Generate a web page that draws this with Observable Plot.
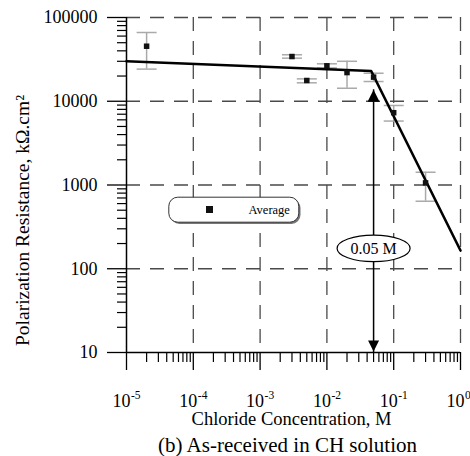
<!DOCTYPE html>
<html>
<head>
<meta charset="utf-8">
<script src="https://cdn.jsdelivr.net/npm/d3@7"></script>
<script src="https://cdn.jsdelivr.net/npm/@observablehq/plot@0.6"></script>
<style>
  body { margin: 0; background: #fff; }
  svg { display: block; }
</style>
</head>
<body>
<div id="chart"></div>
<script>
// Measured polarization resistance (kΩ·cm²) vs chloride concentration (M)
const concentration  = [2e-5, 0.003, 0.005, 0.01, 0.02, 0.05, 0.1, 0.3];
const resistance     = [45400, 34200, 17700, 26500, 22000, 19400, 7300, 1060];
const resistanceLow  = [24200, 32700, 16600, 25000, 14300, 17200, 5800, 640];
const resistanceHigh = [66200, 35900, 18500, 28000, 30000, 21600, 8900, 1420];

// Two-segment fit through the averages
const fitConcentration = [1e-5, 0.046, 1];
const fitResistance    = [30000, 23000, 165];

// Threshold annotation
const thresholdConcentration = 0.05;
const thresholdLabel = "0.05 M";
const thresholdArrowTop = 13700;
const thresholdLabelResistance = 175;

// Axis ticks
const xMajorTicks = [1e-5, 1e-4, 1e-3, 1e-2, 1e-1, 1];
const xExponents  = ["-5", "-4", "-3", "-2", "-1", "0"];
const yMajorTicks = [10, 100, 1000, 10000, 100000];
const yTickLabels = ["10", "100", "1000", "10000", "100000"];
const multiples = [2, 3, 4, 5, 6, 7, 8, 9];
const xMinorTicks = xMajorTicks.slice(0, -1).flatMap(d => multiples.map(k => k * d));
const yMinorTicks = yMajorTicks.slice(0, -1).flatMap(d => multiples.map(k => k * d));

const xTitle = "Chloride Concentration, M";
const yTitle = "Polarization Resistance, kΩ.cm²";
const caption = "(b) As-received in CH solution";
const legendLabel = "Average";

const points = concentration.map((c, i) => ({
  c, r: resistance[i], lo: resistanceLow[i], hi: resistanceHigh[i]
}));
const fit = fitConcentration.map((c, i) => ({c, r: fitResistance[i]}));
const xLabels = xMajorTicks.map((v, i) => ({v, e: xExponents[i]}));
const yLabels = yMajorTicks.map((v, i) => ({v, t: yTickLabels[i]}));

// Custom symbols
const capSymbol = {draw(ctx) { ctx.moveTo(-10, 0); ctx.lineTo(10, 0); }};
const squareSymbol = (s) => ({draw(ctx) {
  ctx.moveTo(-s / 2, -s / 2); ctx.lineTo(s / 2, -s / 2);
  ctx.lineTo(s / 2, s / 2); ctx.lineTo(-s / 2, s / 2); ctx.closePath();
}});
const arrowUp = {draw(ctx) { ctx.moveTo(0, 0); ctx.lineTo(6, 12); ctx.lineTo(-6, 12); ctx.closePath(); }};
const arrowDown = {draw(ctx) { ctx.moveTo(0, -1); ctx.lineTo(5.5, -12); ctx.lineTo(-5.5, -12); ctx.closePath(); }};
function ellipseSymbol(rx, ry) {
  const k = 0.5523;
  return {draw(ctx) {
    ctx.moveTo(rx, 0);
    ctx.bezierCurveTo(rx, ry * k, rx * k, ry, 0, ry);
    ctx.bezierCurveTo(-rx * k, ry, -rx, ry * k, -rx, 0);
    ctx.bezierCurveTo(-rx, -ry * k, -rx * k, -ry, 0, -ry);
    ctx.bezierCurveTo(rx * k, -ry, rx, -ry * k, rx, 0);
    ctx.closePath();
  }};
}
function roundRectSymbol(w, h, r) {
  const x0 = -w / 2, x1 = w / 2, y0 = -h / 2, y1 = h / 2;
  return {draw(ctx) {
    ctx.moveTo(x0 + r, y0);
    ctx.lineTo(x1 - r, y0); ctx.arcTo(x1, y0, x1, y0 + r, r);
    ctx.lineTo(x1, y1 - r); ctx.arcTo(x1, y1, x1 - r, y1, r);
    ctx.lineTo(x0 + r, y1); ctx.arcTo(x0, y1, x0, y1 - r, r);
    ctx.lineTo(x0, y0 + r); ctx.arcTo(x0, y0, x0 + r, y0, r);
    ctx.closePath();
  }};
}

const serif = "Liberation Serif, Times New Roman, serif";
const grid = {stroke: "#4a4a4a", strokeWidth: 1.3, strokeDasharray: "14,10"};

const chart = Plot.plot({
  width: 470,
  height: 456,
  marginLeft: 126,
  marginRight: 10,
  marginTop: 17,
  marginBottom: 104,
  style: {fontFamily: serif, background: "#fff", color: "#000"},
  x: {type: "log", domain: [1e-5, 1]},
  y: {type: "log", domain: [10, 100000]},
  marks: [
    // dashed grid
    Plot.ruleX(xMajorTicks.slice(1), grid),
    Plot.ruleY(yMajorTicks.slice(1), grid),

    // error bars
    Plot.ruleX(points, {x: "c", y1: "lo", y2: "hi", stroke: "#aaa", strokeWidth: 1.5}),
    Plot.dot(points, {x: "c", y: "lo", symbol: capSymbol, r: 5, stroke: "#aaa", strokeWidth: 1.5, fill: "none"}),
    Plot.dot(points, {x: "c", y: "hi", symbol: capSymbol, r: 5, stroke: "#aaa", strokeWidth: 1.5, fill: "none"}),

    // fitted line
    Plot.line(fit, {x: "c", y: "r", stroke: "#000", strokeWidth: 2.6}),

    // averages
    Plot.dot(points, {x: "c", y: "r", symbol: squareSymbol(5.5), r: 5, fill: "#111", stroke: "none"}),

    // threshold arrow
    Plot.ruleX([thresholdConcentration], {x: d => d, y1: () => 10, y2: () => thresholdArrowTop, stroke: "#000", strokeWidth: 1.5}),
    Plot.dot([thresholdConcentration], {x: d => d, y: () => thresholdArrowTop, symbol: arrowUp, r: 5, fill: "#000", stroke: "none"}),
    Plot.dot([thresholdConcentration], {x: d => d, y: () => 10, symbol: arrowDown, r: 5, fill: "#000", stroke: "none"}),
    Plot.dot([thresholdConcentration], {x: d => d, y: () => thresholdLabelResistance, symbol: ellipseSymbol(36.5, 13.3), r: 5, fill: "#fff", stroke: "#000", strokeWidth: 1.2}),
    Plot.text([thresholdLabel], {x: () => thresholdConcentration, y: () => thresholdLabelResistance, text: d => d, fontSize: 16, fontFamily: serif, fill: "#000"}),

    // legend
    Plot.dot([legendLabel], {frameAnchor: "top-left", dx: 109, dy: 194, symbol: roundRectSymbol(130, 25, 9), r: 5, fill: "#777", stroke: "none"}),
    Plot.dot([legendLabel], {frameAnchor: "top-left", dx: 107.3, dy: 192.2, symbol: roundRectSymbol(130, 25, 9), r: 5, fill: "#fff", stroke: "#333", strokeWidth: 1}),
    Plot.dot([legendLabel], {frameAnchor: "top-left", dx: 83, dy: 192, symbol: squareSymbol(7), r: 5, fill: "#111", stroke: "none"}),
    Plot.text([legendLabel], {frameAnchor: "top-left", dx: 122, dy: 192.5, text: d => d, textAnchor: "start", lineAnchor: "middle", fontSize: 12.5, fontFamily: serif, fill: "#000"}),

    // axis lines
    Plot.ruleX([1e-5], {stroke: "#000", strokeWidth: 1.5}),
    Plot.ruleY([10], {stroke: "#000", strokeWidth: 1.5}),

    // y axis
    Plot.axisY(yMajorTicks, {tickSize: 19, text: null, stroke: "#000", strokeWidth: 1.3, label: null}),
    Plot.axisY(yMinorTicks, {tickSize: 9, text: null, stroke: "#000", strokeWidth: 1.2, label: null}),
    Plot.text(yLabels, {y: "v", frameAnchor: "left", dx: -29, text: "t", textAnchor: "end", lineAnchor: "middle", fontSize: 18, fontFamily: serif, fill: "#000"}),

    // x axis
    Plot.axisX(xMajorTicks, {tickSize: 18, text: null, stroke: "#000", strokeWidth: 1.3, label: null}),
    Plot.axisX(xMinorTicks, {tickSize: 10, text: null, stroke: "#000", strokeWidth: 1.2, label: null}),
    Plot.text(xLabels, {x: "v", frameAnchor: "bottom", dx: 4, dy: 54, text: () => "10", textAnchor: "end", lineAnchor: "bottom", fontSize: 18, fontFamily: serif, fill: "#000"}),
    Plot.text(xLabels, {x: "v", frameAnchor: "bottom", dx: 4.5, dy: 46, text: "e", textAnchor: "start", lineAnchor: "bottom", fontSize: 11.5, fontFamily: serif, fill: "#000"}),

    // titles
    Plot.text([xTitle], {frameAnchor: "bottom", dx: -2, dy: 72, text: d => d, lineAnchor: "bottom", fontSize: 18.5, fontFamily: serif, fill: "#000"}),
    Plot.text([caption], {frameAnchor: "bottom", dx: -6, dy: 99, text: d => d, lineAnchor: "bottom", fontSize: 21, fontFamily: serif, fill: "#000"}),
    Plot.text([yTitle], {frameAnchor: "top-left", dx: -104, dy: 203, rotate: -90, text: d => d, textAnchor: "middle", lineAnchor: "middle", fontSize: 19.5, fontFamily: serif, fill: "#000"})
  ]
});

document.getElementById("chart").appendChild(chart);
</script>
</body>
</html>
